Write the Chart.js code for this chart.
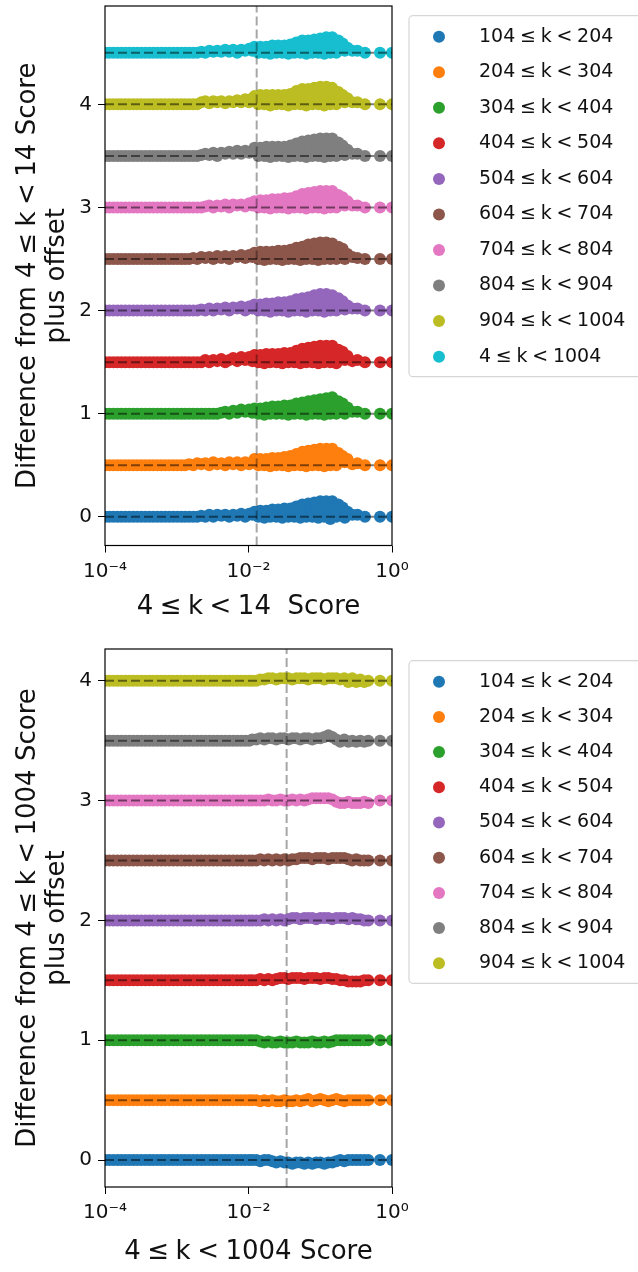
<!DOCTYPE html>
<html>
<head>
<meta charset="utf-8">
<title>Score differences</title>
<script src="https://cdn.jsdelivr.net/npm/chart.js@4.4.1/dist/chart.umd.min.js"></script>
<style>
  body { margin: 0; background: #fff; }
  .panel { width: 638px; height: 636px; }
  canvas { display: block; }
</style>
</head>
<body>
<div class="panel"><canvas id="top-chart" width="638" height="636"></canvas></div>
<div class="panel"><canvas id="bottom-chart" width="638" height="636"></canvas></div>
<script>
Chart.defaults.font.family = '"DejaVu Sans", sans-serif';
Chart.defaults.color = '#111';

const tab10 = ['#1f77b4', '#ff7f0e', '#2ca02c', '#d62728', '#9467bd', '#8c564b', '#e377c2', '#7f7f7f', '#bcbd22', '#17becf'];
const sp = '\u2005'; // math-style spacing around relations
const xTickValues = [1e-4, 1e-2, 1];
const xTickLabels = ['10⁻⁴', '10⁻²', '10⁰'];
const yTickValues = [0, 1, 2, 3, 4];

// ---- top panel: x = 4<=k<14 score (same items in every series)
const topLabels = ['104', '204', '304', '404', '504', '604', '704', '804', '904', '4'].map((lo, i) =>
  lo + sp + '≤' + sp + 'k' + sp + '<' + sp + (i < 9 ? String(Number(lo) + 100) : '1004'));
const topOffsets = [0, 0.5, 1, 1.5, 2, 2.5, 3, 3.5, 4, 4.5];
const topCut = 0.013;
const topScores = [
  0.000089, 0.000101, 0.000115, 0.000131, 0.000149, 0.000169, 0.000192, 0.000218, 0.000248, 0.000282,
  0.000321, 0.000365, 0.000415, 0.000471, 0.000536, 0.000609, 0.000692, 0.000787, 0.000895, 0.00102,
  0.00116, 0.00131, 0.00149, 0.0017, 0.00193, 0.0022, 0.0025, 0.00284, 0.00323, 0.00367,
  0.00417, 0.00474, 0.00539, 0.00612, 0.00696, 0.00791, 0.009, 0.0102, 0.0113,
  0.0121, 0.0129, 0.0137, 0.0146, 0.0156, 0.0166, 0.0177, 0.0189, 0.0201, 0.0215,
  0.0229, 0.0244, 0.026, 0.0278, 0.0296, 0.0316, 0.0337, 0.0359, 0.0383, 0.0408,
  0.0435, 0.0464, 0.0495, 0.0527, 0.0562, 0.06, 0.0639, 0.0682, 0.0727, 0.0775,
  0.0827, 0.0881, 0.094, 0.1, 0.107, 0.114, 0.1215, 0.13, 0.138, 0.147,
  0.157, 0.1675, 0.179, 0.19,
  0.205, 0.22, 0.24, 0.28, 0.33, 0.42, 0.68, 1.0
];
const top104 = [
  0, 0, 0, 0, 0, 0, 0, 0, 0, 0,
  0, 0, 0, 0, 0, 0, 0, 0, 0, 0,
  0, 0, 0, 0, 0, 0.01, 0, 0.02, 0, 0.02,
  0.01, 0.02, 0, 0.02, 0.01, 0.03, 0, 0.03, 0.02,
  0.05, 0.02, 0, 0.06, 0.03, -0.01, 0.06, 0.03, 0, 0.07, 0.03, 0, 0.07, 0.035, -0.01,
  0.08, 0.04, 0, 0.08, 0.04, 0, 0.1, 0.05, -0.01, 0.12, 0.06, 0, 0.13, 0.07, 0,
  0.14, 0.07, -0.01, 0.15, 0.08, 0, 0.15, 0.08, -0.02, 0.15, 0.08, 0, 0.12, 0.05,
  0.09, -0.01, 0.05, 0.02, 0.02, 0, 0, 0
];
const top204 = [
  0, 0, 0, 0, 0, 0, 0, 0, 0, 0,
  0, 0, 0, 0, 0, 0, 0, 0, 0, 0,
  0, 0, 0.01, 0, 0.02, 0.01, 0.02, 0, 0.03, 0.01,
  0.02, 0, 0.03, 0.01, 0.03, 0, 0.03, 0.01, 0.03,
  0.06, 0.03, 0, 0.06, 0.03, 0, 0.06, 0.03, -0.01, 0.07, 0.03, 0, 0.07, 0.04, 0,
  0.08, 0.04, -0.01, 0.09, 0.04, 0, 0.11, 0.05, 0, 0.13, 0.06, -0.01, 0.14, 0.07, 0,
  0.15, 0.08, 0, 0.16, 0.08, -0.01, 0.16, 0.08, 0, 0.16, 0.08, 0, 0.12, 0.06,
  0.09, 0.03, 0.06, 0.01, 0.02, 0, 0, 0
];
const top304 = [
  0, 0, 0, 0, 0, 0, 0, 0, 0, 0,
  0, 0, 0, 0, 0, 0, 0, 0, 0, 0,
  0, 0, 0, 0, 0, 0, 0, 0, 0, 0,
  0.01, 0.02, 0, 0.03, 0.01, 0.04, 0.02, 0.04, 0.01,
  0.05, 0.02, 0, 0.05, 0.03, -0.01, 0.06, 0.03, 0, 0.07, 0.03, 0, 0.07, 0.04, 0,
  0.08, 0.04, -0.01, 0.08, 0.04, 0, 0.1, 0.05, 0, 0.11, 0.05, -0.01, 0.12, 0.06, 0,
  0.13, 0.07, 0, 0.14, 0.07, -0.01, 0.15, 0.07, 0, 0.16, 0.08, 0, 0.12, 0.06,
  0.1, 0, 0.06, 0.02, 0.02, 0, 0, 0
];
const top404 = [
  0, 0, 0, 0, 0, 0, 0, 0, 0, 0,
  0, 0, 0, 0, 0, 0, 0, 0, 0, 0,
  0, 0, 0, 0, 0, 0, 0.02, 0, 0.02, 0.01,
  0.03, 0, 0.02, 0.04, 0.01, 0.05, 0.02, 0.05, 0.01,
  0.07, 0.03, 0, 0.07, 0.04, -0.01, 0.08, 0.04, 0, 0.08, 0.04, 0, 0.08, 0.04, -0.01,
  0.09, 0.04, 0, 0.09, 0.05, 0, 0.11, 0.05, -0.01, 0.13, 0.06, 0, 0.14, 0.07, 0,
  0.15, 0.08, -0.01, 0.16, 0.08, 0, 0.16, 0.08, 0, 0.16, 0.08, -0.01, 0.12, 0.06,
  0.1, 0.02, 0.06, 0.01, 0.02, 0, 0, 0
];
const top504 = [
  0, 0, 0, 0, 0, 0, 0, 0, 0, 0,
  0, 0, 0, 0, 0, 0, 0, 0, 0, 0,
  0, 0, 0, 0, 0, 0.01, 0, 0.02, 0, 0.02,
  0.01, 0.03, 0, 0.03, 0.02, 0.04, 0, 0.04, 0.02,
  0.06, 0.03, 0, 0.06, 0.03, 0, 0.07, 0.03, -0.01, 0.07, 0.04, 0, 0.08, 0.04, 0,
  0.08, 0.04, -0.01, 0.09, 0.04, 0, 0.11, 0.05, 0, 0.12, 0.06, -0.01, 0.13, 0.07, 0,
  0.15, 0.07, 0, 0.16, 0.08, -0.01, 0.16, 0.08, 0, 0.15, 0.07, 0, 0.12, 0.05,
  0.09, 0.01, 0.05, 0.02, 0.02, 0, 0, 0
];
const top604 = [
  0, 0, 0, 0, 0, 0, 0, 0, 0, 0,
  0, 0, 0, 0, 0, 0, 0, 0, 0, 0,
  0, 0, 0, 0.01, 0, 0.02, 0.01, 0.02, 0, 0.03,
  0.01, 0.03, 0, 0.03, 0.02, 0.04, 0.01, 0.04, 0.02,
  0.06, 0.03, 0, 0.07, 0.03, -0.01, 0.07, 0.04, 0, 0.07, 0.04, 0, 0.08, 0.04, -0.01,
  0.08, 0.04, 0, 0.09, 0.05, 0, 0.11, 0.05, -0.01, 0.12, 0.06, 0, 0.14, 0.07, 0,
  0.15, 0.08, -0.01, 0.16, 0.08, 0, 0.16, 0.08, 0, 0.15, 0.07, 0, 0.12, 0.06,
  0.1, 0, 0.05, 0.02, 0.01, 0, 0, 0
];
const top704 = [
  0, 0, 0, 0, 0, 0, 0, 0, 0, 0,
  0, 0, 0, 0, 0, 0, 0, 0, 0, 0,
  0, 0, 0, 0, 0, 0, 0.01, 0.02, 0, 0.02,
  0.01, 0.03, 0, 0.03, 0.02, 0.03, 0.01, 0.04, 0.02,
  0.06, 0.03, 0, 0.07, 0.03, 0, 0.07, 0.04, -0.01, 0.08, 0.04, 0, 0.08, 0.04, 0,
  0.09, 0.05, -0.01, 0.09, 0.05, 0, 0.11, 0.06, 0, 0.13, 0.06, -0.01, 0.14, 0.07, 0,
  0.15, 0.08, 0, 0.16, 0.08, -0.01, 0.16, 0.08, 0, 0.16, 0.08, 0, 0.12, 0.06,
  0.1, 0.02, 0.06, 0.02, 0.02, 0, 0, 0
];
const top804 = [
  0, 0, 0, 0, 0, 0, 0, 0, 0, 0,
  0, 0, 0, 0, 0, 0, 0, 0, 0, 0,
  0, 0, 0, 0, 0, 0.01, 0.02, 0.01, 0.03, 0,
  0.03, 0.02, 0.04, 0.02, 0.05, 0.02, 0.05, 0.03, 0.05,
  0.08, 0.04, 0, 0.08, 0.04, 0, 0.09, 0.04, -0.01, 0.09, 0.05, 0, 0.09, 0.05, 0,
  0.09, 0.05, -0.01, 0.1, 0.05, 0, 0.12, 0.06, 0, 0.14, 0.07, -0.01, 0.15, 0.08, 0,
  0.16, 0.08, 0, 0.17, 0.09, -0.01, 0.17, 0.09, 0, 0.17, 0.08, 0, 0.13, 0.06,
  0.1, 0.01, 0.06, 0.02, 0.02, 0, 0, 0
];
const top904 = [
  0, 0, 0, 0, 0, 0, 0, 0, 0, 0,
  0, 0, 0, 0, 0, 0, 0, 0, 0, 0,
  0, 0, 0, 0, 0, 0.02, 0.03, 0.01, 0.03, 0.02,
  0.03, 0.01, 0.03, 0.02, 0.04, 0.02, 0.05, 0.02, 0.06,
  0.08, 0.04, 0, 0.09, 0.04, 0, 0.09, 0.04, -0.01, 0.09, 0.05, 0, 0.09, 0.05, 0,
  0.09, 0.05, -0.01, 0.1, 0.05, 0, 0.13, 0.06, 0, 0.15, 0.07, -0.01, 0.15, 0.08, 0,
  0.16, 0.08, 0, 0.17, 0.09, -0.01, 0.17, 0.08, 0, 0.16, 0.08, 0, 0.12, 0.06,
  0.09, 0.02, 0.06, 0.02, 0.02, 0, 0, 0
];
const topAll = [
  0, 0, 0, 0, 0, 0, 0, 0, 0, 0,
  0, 0, 0, 0, 0, 0, 0, 0, 0, 0,
  0, 0, 0, 0, 0, 0.01, 0, 0.02, 0.01, 0.02,
  0.01, 0.03, 0.01, 0.03, 0, 0.03, 0.02, 0.04, 0.02,
  0.06, 0.03, 0, 0.06, 0.03, 0, 0.06, 0.03, -0.01, 0.07, 0.03, 0, 0.07, 0.04, 0,
  0.07, 0.04, -0.01, 0.08, 0.04, 0, 0.1, 0.05, 0, 0.12, 0.06, -0.01, 0.12, 0.06, 0,
  0.13, 0.07, 0, 0.14, 0.07, -0.01, 0.15, 0.07, 0, 0.15, 0.08, 0, 0.12, 0.06,
  0.09, 0.02, 0.05, 0.02, 0.02, 0, 0, 0
];

// ---- bottom panel: x = 4<=k<1004 score
const botLabels = topLabels.slice(0, 9);
const botOffsets = [0, 0.5, 1, 1.5, 2, 2.5, 3, 3.5, 4];
const botCut = 0.034;
const botScores = [
  0.000089, 0.000101, 0.000115, 0.000131, 0.000149, 0.000169, 0.000192, 0.000218, 0.000248, 0.000282,
  0.000321, 0.000365, 0.000415, 0.000471, 0.000536, 0.000609, 0.000692, 0.000787, 0.000895, 0.00102,
  0.00116, 0.00131, 0.00149, 0.0017, 0.00193, 0.0022, 0.0025, 0.00284, 0.00323, 0.00367,
  0.00417, 0.00474, 0.00539, 0.00612, 0.00696, 0.00791, 0.009, 0.0102, 0.0113,
  0.01285, 0.0146, 0.0166, 0.0189, 0.0215, 0.0244, 0.0278, 0.0316, 0.0359, 0.0408,
  0.0464, 0.0527, 0.06, 0.0682, 0.0775, 0.0881, 0.1002, 0.1139, 0.1295, 0.1472,
  0.1673, 0.1902, 0.2162, 0.2458, 0.2794, 0.3177, 0.3611, 0.4105, 0.4667,
  0.68, 1.0
];
const bot104 = [
  0, 0, 0, 0, 0, 0, 0, 0, 0, 0,
  0, 0, 0, 0, 0, 0, 0, 0, 0, 0,
  0, 0, 0, 0, 0, 0, 0, 0, 0, 0,
  0, 0, 0, 0, 0, 0, 0, 0, 0,
  0, -0.01, 0, 0, -0.01, -0.02, -0.01, -0.02, -0.02, -0.03,
  -0.02, -0.02, -0.03, -0.02, -0.03, -0.02, -0.02, -0.03, -0.02, -0.02,
  -0.01, 0, -0.01, 0, 0, 0, 0, 0, 0,
  0, 0
];
const bot204 = [
  0, 0, 0, 0, 0, 0, 0, 0, 0, 0,
  0, 0, 0, 0, 0, 0, 0, 0, 0, 0,
  0, 0, 0, 0, 0, 0, 0, 0, 0, 0,
  0, 0, 0, 0, 0, 0, 0, 0, 0,
  0, -0.01, 0, -0.01, 0, -0.01, -0.01, 0, -0.01, -0.01,
  0, -0.01, 0, 0.01, -0.01, 0, 0.01, 0, -0.01, 0,
  0.01, 0, -0.01, 0, 0, 0, 0, 0, 0,
  0, 0
];
const bot304 = [
  0, 0, 0, 0, 0, 0, 0, 0, 0, 0,
  0, 0, 0, 0, 0, 0, 0, 0, 0, 0,
  0, 0, 0, 0, 0, 0, 0, 0, 0, 0,
  0, 0, 0, 0, 0, 0, 0, 0, 0,
  0, -0.01, -0.02, -0.01, -0.02, -0.02, -0.01, -0.02, -0.02, -0.02,
  -0.01, -0.02, -0.02, -0.02, -0.01, -0.02, -0.02, -0.01, -0.02, -0.01,
  0, 0, 0, 0, 0, 0, 0, 0, 0,
  0, 0
];
const bot404 = [
  0, 0, 0, 0, 0, 0, 0, 0, 0, 0,
  0, 0, 0, 0, 0, 0, 0, 0, 0, 0,
  0, 0, 0, 0, 0, 0, 0, 0, 0, 0,
  0, 0, 0, 0, 0, 0, 0, 0, 0,
  0, 0.01, 0, 0.01, 0, 0.01, 0.02, 0.02, 0.01, 0.02,
  0.02, 0.02, 0.01, 0.02, 0.02, 0.02, 0.01, 0.02, 0.02, 0.01,
  0.01, 0, 0, -0.01, -0.01, -0.01, -0.01, 0, 0,
  0, 0
];
const bot504 = [
  0, 0, 0, 0, 0, 0, 0, 0, 0, 0,
  0, 0, 0, 0, 0, 0, 0, 0, 0, 0,
  0, 0, 0, 0, 0, 0, 0, 0, 0, 0,
  0, 0, 0, 0, 0, 0, 0, 0, 0,
  0, 0, 0.01, 0, 0.01, 0, 0.01, 0, 0.01, 0.02,
  0.02, 0.01, 0.02, 0.02, 0.02, 0.01, 0.02, 0.02, 0.02, 0.01,
  0.02, 0.02, 0.02, 0.01, 0.02, 0.01, 0.01, 0, 0,
  0, 0
];
const bot604 = [
  0, 0, 0, 0, 0, 0, 0, 0, 0, 0,
  0, 0, 0, 0, 0, 0, 0, 0, 0, 0,
  0, 0, 0, 0, 0, 0, 0, 0, 0, 0,
  0, 0, 0, 0, 0, 0, 0, 0, 0,
  0, 0.01, 0, 0.01, 0, 0.01, 0, 0.01, 0, 0.01,
  0.01, 0.02, 0.02, 0.02, 0.01, 0.02, 0.02, 0.02, 0.01, 0.02,
  0.02, 0.02, 0.02, 0.01, 0, 0.01, 0, 0, 0,
  0, 0
];
const bot704 = [
  0, 0, 0, 0, 0, 0, 0, 0, 0, 0,
  0, 0, 0, 0, 0, 0, 0, 0, 0, 0,
  0, 0, 0, 0, 0, 0, 0, 0, 0, 0,
  0, 0, 0, 0, 0, 0, 0, 0, 0,
  0, 0, 0, 0.01, 0, 0, 0.01, 0, 0, 0.01,
  0, 0.01, 0, 0.01, 0.02, 0.02, 0.02, 0.02, 0.02, 0.01,
  -0.01, -0.02, -0.02, -0.01, -0.02, -0.02, -0.02, -0.01, -0.02,
  0, 0
];
const bot804 = [
  0, 0, 0, 0, 0, 0, 0, 0, 0, 0,
  0, 0, 0, 0, 0, 0, 0, 0, 0, 0,
  0, 0, 0, 0, 0, 0, 0, 0, 0, 0,
  0, 0, 0, 0, 0, 0, 0, 0, 0.01,
  0.01, 0.02, 0.01, 0.02, 0.02, 0.01, 0.02, 0.02, 0.01, 0.02,
  0.02, 0.01, 0.02, 0.02, 0.01, 0.02, 0.02, 0.03, 0.045, 0.03,
  0.01, -0.01, 0.01, -0.01, 0, -0.01, 0, -0.01, 0,
  0, 0
];
const bot904 = [
  0, 0, 0, 0, 0, 0, 0, 0, 0, 0,
  0, 0, 0, 0, 0, 0, 0, 0, 0, 0,
  0, 0, 0, 0, 0, 0, 0, 0, 0, 0,
  0, 0, 0, 0, 0, 0, 0, 0, 0,
  0, 0.01, 0.01, 0.02, 0.02, 0.01, 0.02, 0.02, 0.02, 0.01,
  0.02, 0.02, 0.02, 0.01, 0.02, 0.02, 0.02, 0.01, 0.02, 0.02,
  0.02, 0.01, 0.02, -0.01, 0.02, -0.01, 0.01, -0.01, 0,
  0, 0
];

// frame on all four sides + boxed legend beside the axes
const panelPlugin = {
  id: 'panel',
  afterDatasetsDraw(chart) {
    const {ctx, chartArea: a} = chart;
    ctx.save();
    ctx.strokeStyle = '#000';
    ctx.lineWidth = 1.2;
    ctx.strokeRect(a.left, a.top, a.right - a.left, a.bottom - a.top);
    ctx.restore();
  },
  afterDraw(chart, args, opts) {
    const {ctx} = chart;
    const rows = chart.data.datasets.filter(d => d.label);
    const top = opts.firstRow - 21;
    const bottom = opts.firstRow + opts.rowStep * (rows.length - 1) + 20;
    ctx.save();
    ctx.beginPath();
    ctx.roundRect(opts.boxLeft, top, 260, bottom - top, 4);
    ctx.fillStyle = 'rgba(255,255,255,0.8)';
    ctx.fill();
    ctx.strokeStyle = '#d6d6d6';
    ctx.lineWidth = 1.2;
    ctx.stroke();
    ctx.font = '19px "DejaVu Sans"';
    ctx.textBaseline = 'middle';
    rows.forEach((d, i) => {
      const y = opts.firstRow + opts.rowStep * i;
      ctx.beginPath();
      ctx.arc(opts.markerX, y, 6, 0, Math.PI * 2);
      ctx.fillStyle = d.backgroundColor;
      ctx.fill();
      ctx.fillStyle = '#111';
      ctx.fillText(d.label, opts.textX, y);
    });
    ctx.restore();
  }
};

function makePanel(canvasId, p) {
  const datasets = p.labels.map((label, i) => ({
    label: label,
    data: p.scores.map((s, j) => ({x: s, y: p.offsets[i] + p.diffs[i][j]})),
    backgroundColor: tab10[i],
    pointRadius: 6,
    pointBorderWidth: 0,
    clip: 0,
    order: 2
  }));
  // dashed reference line at each offset
  p.offsets.forEach(o => datasets.push({
    data: [{x: xTickValues[0], y: o}, {x: xTickValues[2], y: o}],
    showLine: true,
    borderColor: 'rgba(0,0,0,0.5)',
    borderWidth: 2,
    borderDash: [9, 4],
    pointRadius: 0,
    clip: 0,
    order: 1
  }));
  // vertical cut-off line
  datasets.push({
    data: [{x: p.cut, y: p.yMin}, {x: p.cut, y: p.yMax}],
    showLine: true,
    borderColor: 'rgba(0,0,0,0.35)',
    borderWidth: 2,
    borderDash: [9, 4],
    pointRadius: 0,
    clip: 0,
    order: 0
  });

  new Chart(document.getElementById(canvasId), {
    type: 'scatter',
    data: {datasets: datasets},
    options: {
      responsive: false,
      animation: false,
      devicePixelRatio: 1,
      events: [],
      layout: {padding: {left: 0, right: 246, top: p.areaTop, bottom: 0}},
      plugins: {
        legend: {display: false},
        tooltip: {enabled: false},
        panel: p.legend
      },
      scales: {
        x: {
          type: 'logarithmic',
          min: 1e-4,
          max: 1,
          afterBuildTicks: s => { s.ticks = xTickValues.map(v => ({value: v})); },
          afterFit: s => { s.height = p.xAxisHeight; s.paddingLeft = 0; s.paddingRight = 0; },
          ticks: {
            callback: (v, i) => xTickLabels[i],
            font: {size: 20},
            color: '#111',
            padding: 7,
            maxRotation: 0,
            autoSkip: false
          },
          grid: {drawOnChartArea: false, tickLength: 7, color: '#000'},
          border: {display: false},
          title: {display: true, text: p.xTitle, font: {size: 26}, color: '#111', padding: {top: 0, bottom: p.xTitlePad}}
        },
        y: {
          min: p.yMin,
          max: p.yMax,
          afterBuildTicks: s => { s.ticks = yTickValues.map(v => ({value: v})); },
          afterFit: s => { s.width = 105; s.paddingTop = 0; s.paddingBottom = 0; },
          ticks: {font: {size: 20}, color: '#111', padding: 6},
          grid: {drawOnChartArea: false, tickLength: 7, color: '#000'},
          border: {display: false},
          title: {display: true, text: p.yTitle, font: {size: 26, lineHeight: 1.12}, color: '#111', padding: {top: 13.5}}
        }
      }
    },
    plugins: [panelPlugin]
  });
}

makePanel('top-chart', {
  labels: topLabels,
  offsets: topOffsets,
  scores: topScores,
  diffs: [top104, top204, top304, top404, top504, top604, top704, top804, top904, topAll],
  cut: topCut,
  yMin: -0.278,
  yMax: 4.954,
  areaTop: 4.5,
  xAxisHeight: 90.5,
  xTitlePad: 13.4,
  xTitle: '4' + sp + '≤' + sp + 'k' + sp + '<' + sp + '14  Score',
  yTitle: ['Difference from 4' + sp + '≤' + sp + 'k' + sp + '<' + sp + '14 Score', 'plus offset'],
  legend: {boxLeft: 409, firstRow: 36.7, rowStep: 35.55, markerX: 439, textX: 479}
});

makePanel('bottom-chart', {
  labels: botLabels,
  offsets: botOffsets,
  scores: botScores,
  diffs: [bot104, bot204, bot304, bot404, bot504, bot604, bot704, bot804, bot904],
  cut: botCut,
  yMin: -0.225,
  yMax: 4.265,
  areaTop: 13,
  xAxisHeight: 85,
  xTitlePad: 4.4,
  xTitle: '4' + sp + '≤' + sp + 'k' + sp + '<' + sp + '1004 Score',
  yTitle: ['Difference from 4' + sp + '≤' + sp + 'k' + sp + '<' + sp + '1004 Score', 'plus offset'],
  legend: {boxLeft: 409, firstRow: 45.7, rowStep: 35.2, markerX: 439, textX: 479}
});
</script>
</body>
</html>
